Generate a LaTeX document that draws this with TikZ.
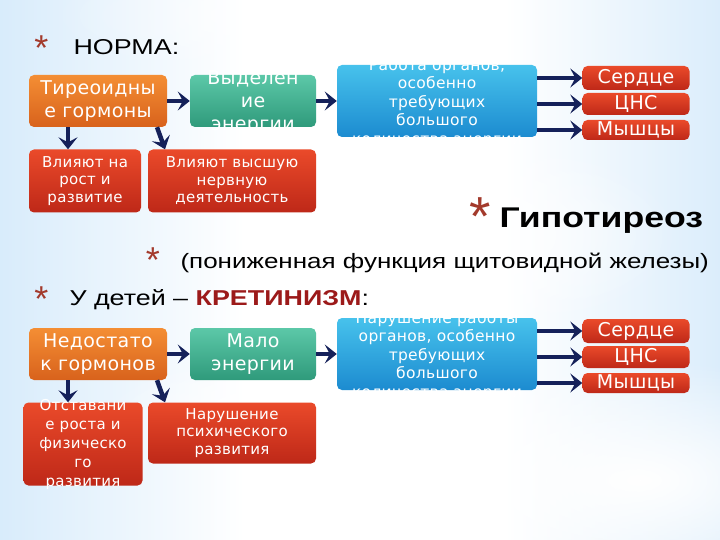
\documentclass[tikz,border=0pt]{standalone}
\usepackage{fontspec}
\setmainfont{Liberation Sans}
\newfontfamily\headfont[FakeStretch=1.25]{Liberation Sans}
\newfontfamily\boxfont[LetterSpace=2]{DejaVu Sans}
\usetikzlibrary{arrows.meta,fadings}
\definecolor{bgblue}{HTML}{9FCFF5}
\definecolor{starred}{HTML}{A33A2C}
\definecolor{arrblue}{HTML}{15215A}
\definecolor{kretred}{HTML}{9C1A1A}
\definecolor{orTop}{HTML}{F48E34}
\definecolor{orBot}{HTML}{D8621C}
\definecolor{grTop}{HTML}{5CC8A8}
\definecolor{grBot}{HTML}{2F9A7B}
\definecolor{blTop}{HTML}{47C2EC}
\definecolor{blBot}{HTML}{1C8BD0}
\definecolor{rdTop}{HTML}{EA4A2A}
\definecolor{rdBot}{HTML}{BE2818}
\tikzfading[name=softblob, inner color=transparent!0, outer color=transparent!100]
\pgfdeclarehorizontalshading{bgshade}{100bp}{color(0bp)=(bgblue); color(42bp)=(white); color(60bp)=(white); color(100bp)=(bgblue)}

\tikzset{
  box/.style={rounded corners=5pt, inner sep=0pt, text=white, align=center},
  orbox/.style={box, top color=orTop, bottom color=orBot, minimum width=138pt, minimum height=52pt},
  grbox/.style={box, top color=grTop, bottom color=grBot, minimum width=126pt, minimum height=52pt},
  blbox/.style={box, top color=blTop, bottom color=blBot, minimum width=200pt, minimum height=72pt},
  rdbox/.style={box, top color=rdTop, bottom color=rdBot},
  organ/.style={rdbox, minimum width=107pt, font=\boxfont\fontsize{19}{20}\selectfont},
  bigtxt/.style={text=white, align=center, font=\boxfont\fontsize{19}{23}\selectfont},
  smalltxt/.style={text=white, align=center, font=\boxfont\fontsize{15}{17.5}\selectfont},
  bluetxt/.style={smalltxt, font=\boxfont\fontsize{15.5}{18.5}\selectfont},
  arr/.style={line width=4.5pt, arrblue, -{Stealth[length=12pt, width=19pt, inset=5pt]}},
  star/.style={starred, anchor=base, font=\fontsize{36}{36}\selectfont},
  title/.style={anchor=base west, font=\headfont\fontsize{21.5}{26}\selectfont}
}

\begin{document}
\begin{tikzpicture}[x=1pt, y=-1pt]
\useasboundingbox (0,0) rectangle (720,540);
% background
\shade[shading=bgshade] (0,0) rectangle (720,540);
\fill[white, path fading=softblob] (430,235) ellipse (250 and 105);
\fill[white, path fading=softblob] (640,480) ellipse (280 and 120);
\fill[white, path fading=softblob] (300,420) ellipse (200 and 70);
\fill[white, path fading=softblob, opacity=.5] (250,15) ellipse (200 and 60);

% headings
\node[star] (st1) at (41.5,61) {*};
\node[title] (norma) at (70,55) {НОРМА:};
\node[star, font=\fontsize{55}{55}\selectfont] (st2) at (480,236) {*};
\node[title, font=\headfont\fontsize{28.5}{30}\selectfont\bfseries] (hypo) at (496,227) {Гипотиреоз};
\node[star] (st3) at (153,272) {*};
\node[title, font=\headfont\fontsize{20.8}{24}\selectfont] (sub) at (177,268) {(пониженная функция щитовидной железы)};
\node[star] (st4) at (41.5,311) {*};
\node[title] (child) at (66,305) {У детей – \textbf{\color{kretred}КРЕТИНИЗМ}:};

% norm
\node[orbox] (thy) at (98,101) {};
\node[bigtxt] at (thy) {Тиреоидны\\е гормоны};
\node[grbox] (en) at (253,101) {};
\node[bigtxt] at ([yshift=-2pt]en) {Выделен\\ие\\энергии};
\node[blbox] (work) at (437,101) {};
\node[bluetxt] at ([yshift=-2pt]work) {Работа органов,\\особенно\\требующих\\большого\\количества энергии};
\node[organ, minimum height=24pt] (heart) at (636,78) {Сердце};
\node[organ, minimum height=22pt] (cns) at (636,104) {ЦНС};
\node[organ, minimum height=20pt] (musc) at (636,130) {Мышцы};
\node[rdbox, minimum width=112pt, minimum height=63pt, smalltxt] (grow) at (85,181) {Влияют на\\рост и\\развитие};
\node[rdbox, minimum width=168pt, minimum height=63pt, smalltxt] (nerv) at (232,181) {Влияют высшую\\нервную\\деятельность};

\draw[arr] (thy) -- (en);
\draw[arr] (en) -- (work);
\draw[arr] (work.east |- heart) -- (heart);
\draw[arr] (work.east |- cns) -- (cns);
\draw[arr] (work.east |- musc) -- (musc);
\draw[arr] ([xshift=-30pt]thy.south) -- ([xshift=-17pt]grow.north);
\draw[arr] ([xshift=59pt]thy.south) -- ([xshift=-67pt]nerv.north);

% cretinism
\node[orbox] (lack) at (98,354) {};
\node[bigtxt] at (lack) {Недостато\\к гормонов};
\node[grbox] (few) at (253,354) {};
\node[bigtxt] at (few) {Мало\\энергии};
\node[blbox] (bad) at (437,354) {};
\node[bluetxt] at ([yshift=-2pt]bad) {Нарушение  работы\\органов, особенно\\требующих\\большого\\количества энергии};
\node[organ, minimum height=24pt] (heart2) at (636,331) {Сердце};
\node[organ, minimum height=22pt] (cns2) at (636,357) {ЦНС};
\node[organ, minimum height=20pt] (musc2) at (636,383) {Мышцы};
\node[rdbox, minimum width=119pt, minimum height=83pt] (lag) at (83,444) {};
\node[smalltxt, font=\boxfont\fontsize{15}{19}\selectfont] at (lag) {Отставани\\е роста и\\физическо\\го\\развития};
\node[rdbox, minimum width=168pt, minimum height=61pt, smalltxt] (psy) at (232,433) {Нарушение\\психического\\развития};

\draw[arr] (lack) -- (few);
\draw[arr] (few) -- (bad);
\draw[arr] (bad.east |- heart2) -- (heart2);
\draw[arr] (bad.east |- cns2) -- (cns2);
\draw[arr] (bad.east |- musc2) -- (musc2);
\draw[arr] ([xshift=-30pt]lack.south) -- ([xshift=-15pt]lag.north);
\draw[arr] ([xshift=59pt]lack.south) -- ([xshift=-67pt]psy.north);
\end{tikzpicture}
\end{document}
